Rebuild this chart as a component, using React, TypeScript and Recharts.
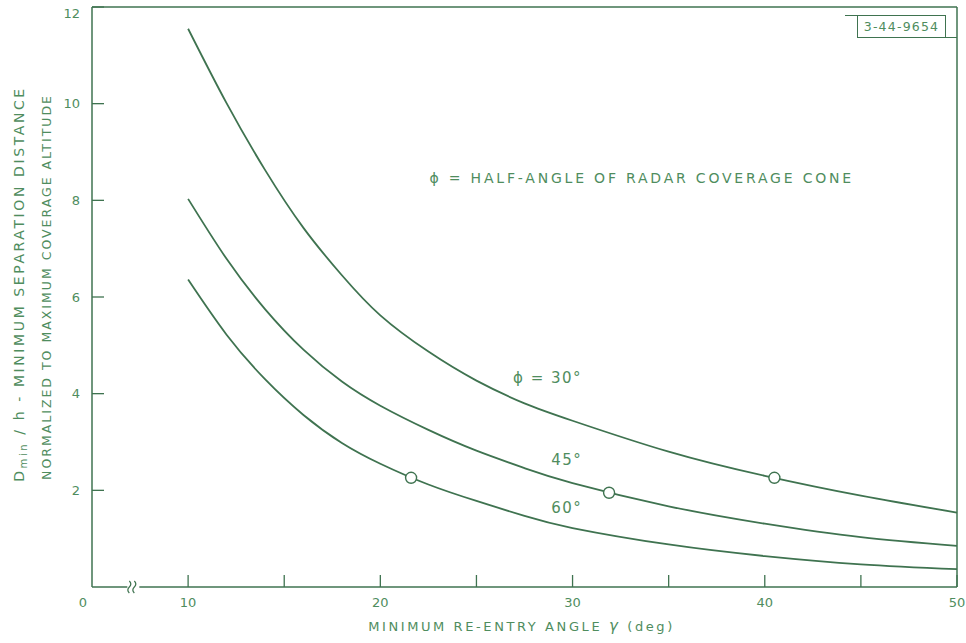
import { LineChart, Line, XAxis, YAxis, ReferenceLine, ReferenceDot } from 'recharts';

// re-entry angle (deg) where the curves were read
const GAMMA = [10, 12, 14, 16, 18, 20, 22.5, 25, 27.5, 30, 35, 40, 45, 50];
// Dmin/h for each half-angle
const PHI30 = [11.55, 10.01, 8.63, 7.43, 6.45, 5.62, 4.87, 4.27, 3.8, 3.44, 2.8, 2.3, 1.89, 1.54];
const PHI45 = [8.03, 6.79, 5.75, 4.91, 4.25, 3.75, 3.25, 2.82, 2.46, 2.15, 1.67, 1.31, 1.03, 0.85];
const PHI60 = [6.36, 5.22, 4.3, 3.56, 2.98, 2.55, 2.12, 1.78, 1.47, 1.22, 0.88, 0.64, 0.47, 0.37];

// open circles on the curves
const MARK_GAMMA = [40.5, 31.9, 21.6];
const MARK_VALUE = [2.26, 1.95, 2.26];

const X_TICKS = [0, 10, 15, 20, 25, 30, 35, 40, 45, 50];
const X_LABELED = [0, 10, 20, 30, 40, 50];
const Y_TICKS = [2, 4, 6, 8, 10, 12];

const LINE = '#3f7350';
const INK = '#4f8d5e';
const FONT = '"DejaVu Sans", sans-serif';

// axis is broken between 0 and 10: that part is drawn at half scale
const toPos = (g: number) => (g <= 10 ? g / 2 : g - 5);
const fromPos = (p: number) => (p <= 5 ? p * 2 : p + 5);

const build = (vals: number[]) => GAMMA.map((g, i) => ({ pos: toPos(g), v: vals[i] }));
const s30 = build(PHI30);
const s45 = build(PHI45);
const s60 = build(PHI60);

const X_MARGIN = 14;
const Y_MARGIN = 12;

const XTick = (props: any) => {
  const { x, y, payload } = props;
  const g = Math.round(fromPos(payload.value));
  const axisY = y - X_MARGIN;
  return (
    <g>
      {g !== 0 && <line x1={x} x2={x} y1={axisY} y2={axisY - 12} stroke={LINE} strokeWidth={1.3} />}
      {X_LABELED.includes(g) && (
        <text x={g === 0 ? x - 9 : x} y={axisY + 15} textAnchor="middle" dominantBaseline="central"
          fill={INK} fontSize={13} fontFamily={FONT}>{g}</text>
      )}
    </g>
  );
};

const YTick = (props: any) => {
  const { x, y, payload } = props;
  const axisX = x + Y_MARGIN;
  const v = payload.value;
  return (
    <g>
      <line x1={axisX} x2={axisX + 12} y1={y} y2={y} stroke={LINE} strokeWidth={1.3} />
      <text x={axisX - 12} y={v === 12 ? y + 6 : y} textAnchor="end" dominantBaseline="central"
        fill={INK} fontSize={13} fontFamily={FONT}>{v}</text>
    </g>
  );
};

const YLabel = () => (
  <g fill={INK} fontFamily={FONT}>
    <text x={19} y={284} transform="rotate(-90, 19, 284)" textAnchor="middle" dominantBaseline="central"
      fontSize={14} letterSpacing={2.6}>
      D<tspan fontSize={10} dy={4}>min</tspan>
      <tspan dy={-4}> / h  -  MINIMUM  SEPARATION  DISTANCE</tspan>
    </text>
    <text x={46} y={287} transform="rotate(-90, 46, 287)" textAnchor="middle" dominantBaseline="central"
      fontSize={12.5} letterSpacing={2}>
      NORMALIZED  TO  MAXIMUM  COVERAGE  ALTITUDE
    </text>
  </g>
);

const XLabel = (props: any) => {
  const vb = props.viewBox;
  const cx = vb.x + vb.width / 2 - 3;
  return (
    <text x={cx} y={626} textAnchor="middle" dominantBaseline="central" fill={INK} fontFamily={FONT}
      fontSize={13} letterSpacing={2.6}>
      MINIMUM  RE-ENTRY  ANGLE <tspan fontStyle="italic" fontSize={15}>γ</tspan> (deg)
    </text>
  );
};

const textShape = (txt: string, size: number, spacing: number) => (p: any) => (
  <text x={p.cx} y={p.cy} textAnchor="middle" dominantBaseline="central" fill={INK}
    fontFamily={FONT} fontSize={size} letterSpacing={spacing}>{txt}</text>
);

const breakShape = (p: any) => (
  <g>
    <rect x={p.cx - 6} y={p.cy - 2} width={12} height={4} fill="#fff" />
    <path d={`M${p.cx - 4} ${p.cy - 6} q3 3 0 6 q-3 3 0 6`} stroke={LINE} fill="none" strokeWidth={1.2} />
    <path d={`M${p.cx + 1} ${p.cy - 6} q3 3 0 6 q-3 3 0 6`} stroke={LINE} fill="none" strokeWidth={1.2} />
  </g>
);

export default function App() {
  return (
    <div style={{ position: 'absolute', left: 0, top: 0, width: 966, height: 643, background: '#fff' }}>
      <LineChart width={966} height={643} margin={{ top: 7, right: 9, left: 32, bottom: 16 }}>
        <XAxis type="number" dataKey="pos" domain={[0, 45]} ticks={X_TICKS.map(toPos)} interval={0}
          tick={(p: any) => <XTick {...p} />} tickLine={false} tickSize={0} tickMargin={X_MARGIN}
          axisLine={{ stroke: LINE, strokeWidth: 1.5 }} height={40} label={{ content: XLabel }} />
        <YAxis type="number" domain={[0, 12]} ticks={Y_TICKS} interval={0} width={60}
          tick={(p: any) => <YTick {...p} />} tickLine={false} tickSize={0} tickMargin={Y_MARGIN}
          axisLine={{ stroke: LINE, strokeWidth: 1.5 }} label={{ content: YLabel }} />
        <ReferenceLine y={12} stroke={LINE} strokeWidth={1.3} />
        <ReferenceLine x={45} stroke={LINE} strokeWidth={1.5} />
        <Line data={s30} dataKey="v" type="natural" dot={false} stroke={LINE} strokeWidth={1.8} isAnimationActive={false} />
        <Line data={s45} dataKey="v" type="natural" dot={false} stroke={LINE} strokeWidth={1.8} isAnimationActive={false} />
        <Line data={s60} dataKey="v" type="natural" dot={false} stroke={LINE} strokeWidth={1.8} isAnimationActive={false} />
        {MARK_GAMMA.map((g, i) => (
          <ReferenceDot key={i} x={toPos(g)} y={MARK_VALUE[i]} r={5.5} fill="#fff" stroke={LINE} strokeWidth={1.4} />
        ))}
        <ReferenceDot x={toPos(4.3)} y={0} r={0} shape={breakShape} ifOverflow="visible" />
        <ReferenceDot x={toPos(33.6)} y={8.46} r={0} shape={textShape('ϕ = HALF-ANGLE OF RADAR COVERAGE CONE', 14, 2.8)} />
        <ReferenceDot x={toPos(28.7)} y={4.32} r={0} shape={textShape('ϕ = 30°', 15, 1.5)} />
        <ReferenceDot x={toPos(29.7)} y={2.63} r={0} shape={textShape('45°', 15, 1.5)} />
        <ReferenceDot x={toPos(29.7)} y={1.63} r={0} shape={textShape('60°', 15, 1.5)} />
      </LineChart>
      <div style={{ position: 'absolute', left: 845, top: 15, width: 12, borderTop: `1px solid ${LINE}` }} />
      <div style={{
        position: 'absolute', left: 857, top: 15, width: 89, height: 23, border: `1px solid ${LINE}`,
        boxSizing: 'border-box', color: INK, fontFamily: '"Liberation Sans Narrow", "DejaVu Sans", sans-serif',
        fontSize: 12.5, lineHeight: '21px', textAlign: 'center', letterSpacing: 1.2,
      }}>3-44-9654</div>
      <div style={{ position: 'absolute', left: 946, top: 37, width: 11, borderTop: `1px solid ${LINE}` }} />
    </div>
  );
}
